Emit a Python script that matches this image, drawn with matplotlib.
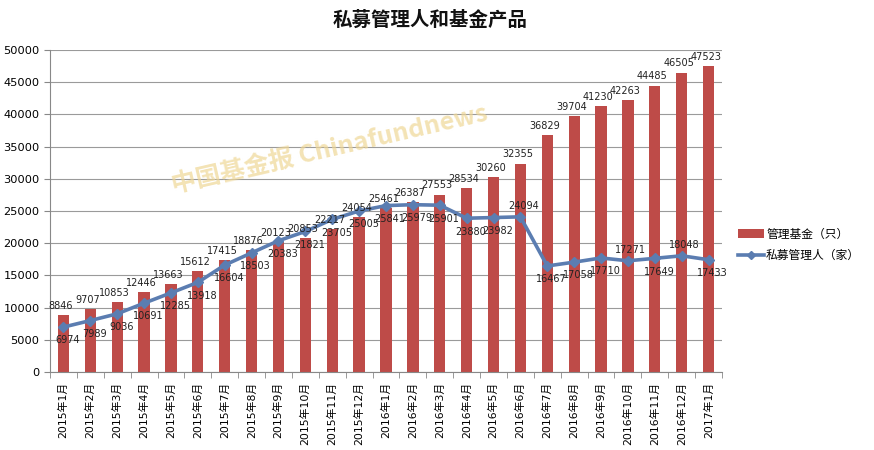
import matplotlib
matplotlib.use("Agg")
import matplotlib.pyplot as plt
import numpy as np
from matplotlib.lines import Line2D
from matplotlib.patches import Patch

plt.rcParams['font.family'] = ['DejaVu Sans', 'Noto Sans CJK SC']

months = ["2015年1月", "2015年2月", "2015年3月", "2015年4月", "2015年5月", "2015年6月",
          "2015年7月", "2015年8月", "2015年9月", "2015年10月", "2015年11月", "2015年12月",
          "2016年1月", "2016年2月", "2016年3月", "2016年4月", "2016年5月", "2016年6月",
          "2016年7月", "2016年8月", "2016年9月", "2016年10月", "2016年11月", "2016年12月",
          "2017年1月"]
funds = [8846, 9707, 10853, 12446, 13663, 15612, 17415, 18876, 20123, 20853, 22217, 24054,
         25461, 26387, 27553, 28534, 30260, 32355, 36829, 39704, 41230, 42263, 44485, 46505, 47523]
managers = [6974, 7989, 9036, 10691, 12285, 13918, 16604, 18503, 20383, 21821, 23705, 25005,
            25841, 25979, 25901, 23880, 23982, 24094, 16467, 17058, 17710, 17271, 17649, 18048, 17433]
label_above = {"2016年6月", "2016年10月", "2016年12月"}

bar_color = "#BE4B48"
line_color = "#5B7DB1"

fig = plt.figure(figsize=(8.74, 4.5), dpi=100)
ax = fig.add_axes([50/874, 1-372/450, (722-50)/874, (372-50)/450])

x = np.arange(len(months))
ax.bar(x, funds, width=0.42, color=bar_color, zorder=2)
ax.plot(x, managers, color=line_color, lw=2.6, marker='D', ms=5, zorder=3)

for xi, v in zip(x, funds):
    ax.annotate(str(v), (xi, v), xytext=(-2, 3), textcoords='offset points',
                ha='center', va='bottom', fontsize=7, color='#222222', zorder=4)
for xi, v, m in zip(x, managers, months):
    if m in label_above:
        ax.annotate(str(v), (xi, v), xytext=(2, 4), textcoords='offset points',
                    ha='center', va='bottom', fontsize=7, color='#222222', zorder=4)
    else:
        ax.annotate(str(v), (xi, v), xytext=(3, -6), textcoords='offset points',
                    ha='center', va='top', fontsize=7, color='#222222', zorder=4)

ax.set_xlim(-0.5, len(months) - 0.5)
ax.set_ylim(0, 50000)
ax.set_yticks(np.arange(0, 50001, 5000))
ax.yaxis.grid(True, color='#9a9a9a', lw=0.8, zorder=0)
ax.set_axisbelow(True)
ax.set_xticks(x)
ax.set_xticklabels(months, rotation=90, fontsize=7.8)
ax.set_xticks(np.arange(-0.5, len(months), 1), minor=True)
ax.tick_params(axis='x', which='major', length=0, pad=7)
ax.tick_params(axis='x', which='minor', length=4, color='#888888')
ax.tick_params(axis='y', labelsize=8.2, length=4, color='#888888')
for s in ['top', 'right']:
    ax.spines[s].set_visible(False)
for s in ['left', 'bottom']:
    ax.spines[s].set_color('#888888')

fig.text(430/874, 1-20/450, "私募管理人和基金产品", ha='center', va='center',
         fontsize=14, fontweight='bold', color='#111111',
         family=['Noto Sans CJK SC', 'DejaVu Sans'])

fig.text(330/874, 1-150/450, "中国基金报 Chinafundnews", ha='center', va='center',
         fontsize=18, fontweight='bold', style='italic', rotation=13,
         color='#efd796', alpha=0.7, zorder=1,
         family=['Noto Sans CJK SC', 'DejaVu Sans'])

handles = [Patch(facecolor=bar_color, edgecolor='none'),
           Line2D([0], [0], color=line_color, lw=2.6, marker='D', ms=4)]
fig.legend(handles, ["管理基金（只）", "私募管理人（家）"], loc='center left',
           bbox_to_anchor=(736/874, 1-245/450), frameon=False, fontsize=8.5,
           handlelength=2.2, handleheight=0.8, labelspacing=0.7, handletextpad=0.15,
           borderaxespad=0, borderpad=0.2,
           prop={'family': ['Noto Sans CJK SC', 'DejaVu Sans'], 'size': 8.5})

fig.savefig("out.png", dpi=100)
